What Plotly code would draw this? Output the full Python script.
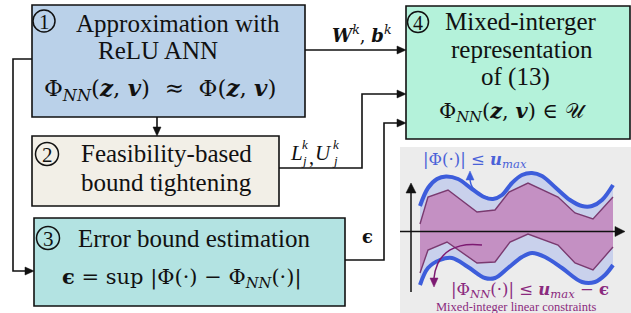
import plotly.graph_objects as go

# ---------------- data (inset sketch, abstract units: t along time axis, v signal value) -------------
upper_bound_t = [0.8, 1.6, 2.5, 3.4, 4.6, 6.0, 7.2, 8.1, 9.0, 10.0, 11.0, 12.0, 13.0, 14.4, 15.8, 17.0, 18.0, 19.0, 20.1]
upper_bound_v = [2.55, 4.35, 5.25, 5.5, 5.25, 4.25, 3.45, 3.25, 3.65, 4.85, 5.65, 5.85, 5.55, 4.35, 3.15, 2.55, 2.55, 3.15, 4.65]
lower_bound_t = [0.8, 1.6, 2.8, 4.0, 5.6, 7.3, 8.3, 9.6, 11.0, 12.0, 13.3, 15.0, 17.0, 18.3, 19.3, 20.1]
lower_bound_v = [-5.35, -3.65, -2.85, -2.65, -3.55, -4.65, -4.65, -3.65, -2.55, -2.15, -2.55, -3.65, -5.05, -5.05, -4.35, -3.35]
nn_t = [0.8, 1.6, 3.6, 6.5, 8.3, 9.7, 11.6, 14.6, 16.3, 18.1, 20.1]
nn_upper_v = [0.75, 3.45, 4.15, 1.95, 2.15, 3.95, 4.85, 3.45, 1.85, 1.25, 3.45]
nn_lower_t = [0.8, 1.6, 3.5, 6.5, 8.3, 9.8, 11.6, 14.6, 16.3, 18.1, 20.1]
nn_lower_v = [-4.15, -1.85, -1.05, -3.15, -3.05, -1.05, -0.25, -1.35, -3.15, -3.85, -1.55]

# ---------------- text ----------------
NB = "\u00a0"
ZV = "(<b><i>z</i></b>," + NB + "<b><i>v</i></b>)"
box1_lines = ["Approximation with", "ReLU ANN",
              "Φ<sub><i>NN</i></sub>" + ZV + NB + NB + "≈" + NB + NB + "Φ" + ZV]
box2_lines = ["Feasibility-based", "bound tightening"]
box3_lines = ["Error bound estimation",
              "<b>ϵ</b>" + NB + "=" + NB + "sup" + NB + "|Φ(·)" + NB + "−" + NB + "Φ<sub><i>NN</i></sub>(·)|"]
box4_lines = ["Mixed-interger", "representation", "of (13)",
              "Φ<sub><i>NN</i></sub>" + ZV + NB + "∈" + NB + "𝒰"]
step_numbers = ["1", "2", "3", "4"]

W, H = 631, 313
SERIF = "Liberation Serif, Times New Roman, serif"
MATH = "DejaVu Serif, serif"
BLUE = "#3d5ddb"
LBLUE = "#c9d1ec"
PURP_FILL = "#c490c3"
PURP_LINE = "#7a3a70"
PURP_TXT = "#8a2a7e"

fig = go.Figure()

# inset traces on overlay axes (x2/y2)
fig.add_trace(go.Scatter(x=lower_bound_t, y=lower_bound_v, mode="lines", line=dict(width=0, shape="spline", color=LBLUE),
                         xaxis="x2", yaxis="y2", hoverinfo="skip"))
fig.add_trace(go.Scatter(x=upper_bound_t, y=upper_bound_v, mode="lines", line=dict(width=0, shape="spline", color=LBLUE),
                         fill="tonexty", fillcolor=LBLUE, xaxis="x2", yaxis="y2", hoverinfo="skip"))
fig.add_trace(go.Scatter(x=nn_lower_t, y=nn_lower_v, mode="lines", line=dict(width=0, color=PURP_FILL),
                         xaxis="x2", yaxis="y2", hoverinfo="skip"))
fig.add_trace(go.Scatter(x=nn_t, y=nn_upper_v, mode="lines", line=dict(width=0, color=PURP_FILL),
                         fill="tonexty", fillcolor=PURP_FILL, xaxis="x2", yaxis="y2", hoverinfo="skip"))
fig.add_trace(go.Scatter(x=nn_t, y=nn_upper_v, mode="lines", line=dict(width=1.4, color=PURP_LINE),
                         xaxis="x2", yaxis="y2", hoverinfo="skip"))
fig.add_trace(go.Scatter(x=nn_lower_t, y=nn_lower_v, mode="lines", line=dict(width=1.4, color=PURP_LINE),
                         xaxis="x2", yaxis="y2", hoverinfo="skip"))
fig.add_trace(go.Scatter(x=upper_bound_t, y=upper_bound_v, mode="lines", line=dict(width=4, shape="spline", color=BLUE),
                         xaxis="x2", yaxis="y2", hoverinfo="skip"))
fig.add_trace(go.Scatter(x=lower_bound_t, y=lower_bound_v, mode="lines", line=dict(width=4, shape="spline", color=BLUE),
                         xaxis="x2", yaxis="y2", hoverinfo="skip"))

shapes = []


def rect(x0, y0, x1, y1, fill, lw=1.6, layer="below"):
    shapes.append(dict(type="rect", x0=x0, y0=y0, x1=x1, y1=y1, xref="x", yref="y",
                       fillcolor=fill, line=dict(color="#111111", width=lw), layer=layer))


def path(d, color="#111111", lw=1.6, fill=None):
    s = dict(type="path", path=d, xref="x", yref="y", line=dict(color=color, width=lw))
    if fill:
        s["fillcolor"] = fill
    shapes.append(s)


def head(x, y, direction, L=9, Wd=4, color="#111111"):
    if direction == "r":
        d = f"M {x} {y} L {x-L} {y-Wd} L {x-L} {y+Wd} Z"
    elif direction == "l":
        d = f"M {x} {y} L {x+L} {y-Wd} L {x+L} {y+Wd} Z"
    elif direction == "u":
        d = f"M {x} {y} L {x-Wd} {y+L} L {x+Wd} {y+L} Z"
    else:
        d = f"M {x} {y} L {x-Wd} {y-L} L {x+Wd} {y-L} Z"
    path(d, color=color, lw=0.5, fill=color)


def circle(cx, cy, r):
    shapes.append(dict(type="circle", x0=cx - r, x1=cx + r, y0=cy - r, y1=cy + r, xref="x", yref="y",
                       line=dict(color="#111111", width=1.5)))


# inset panel background
shapes.append(dict(type="rect", x0=400, y0=147, x1=631, y1=313, xref="x", yref="y",
                   fillcolor="#ececec", line=dict(width=0), layer="below"))

# boxes
rect(32, 5, 305, 117, "#bad1e9")
rect(32, 136, 279, 206, "#f2efe7")
rect(34, 218, 345, 306, "#b3e3e2")
rect(406, 6, 630, 139, "#b4f2da")

# connectors
path("M 305 50 L 398 50")
head(406, 50, "r")
path("M 157 117 L 157 128")
head(157, 136, "d")
path("M 279 168 L 362 168 L 362 94 L 398 94")
head(406, 94, "r")
path("M 345 260 L 384 260 L 384 123 L 398 123")
head(406, 123, "r")
path("M 32 59 L 13 59 L 13 271 L 26 271")
head(34, 271, "r")

# step circles
circle(44, 21, 11)
circle(47, 154, 11.5)
circle(48, 238, 11.5)
circle(418, 22, 10.5)

# inset axes
path("M 411 292 L 411 192", lw=1.5)
head(411, 183, "u", L=10, Wd=5)
path("M 400 231.5 L 616 231.5", lw=1.5)
head(625, 231.5, "r", L=10, Wd=5)

# inset callout arrows
path("M 496 199 Q 472 196 470 180", color=BLUE, lw=1.5)
head(470, 171, "u", L=9, Wd=4, color=BLUE)
path("M 482 245 C 458 242 437 250 434 278", color="#7d1a72", lw=1.5)
head(434, 287, "d", L=9, Wd=4, color="#7d1a72")

annotations = []


def ann(x, y, text, size, color="#111111", xanchor="center", family=SERIF):
    annotations.append(dict(x=x, y=y, xref="x", yref="y", text=text, showarrow=False,
                            xanchor=xanchor, yanchor="middle",
                            font=dict(family=family, size=size, color=color)))


TS = 25
# box 1
ann(178, 23, box1_lines[0], TS)
ann(158, 50, box1_lines[1], TS)
ann(160, 89, box1_lines[2], 23, family=MATH)
# box 2
ann(166, 153, box2_lines[0], TS)
ann(166, 182, box2_lines[1], TS)
# box 3
ann(194, 238, box3_lines[0], TS)
ann(182, 277, box3_lines[1], 21, family=MATH)
# box 4
ann(521, 21, box4_lines[0], TS)
ann(522, 49, box4_lines[1], TS)
ann(515, 77, box4_lines[2], TS)
ann(513, 111, box4_lines[3], 21, family=MATH)
# circled numbers
ann(44, 22, step_numbers[0], 21)
ann(47, 155, step_numbers[1], 21)
ann(48, 239, step_numbers[2], 21)
ann(418, 23, step_numbers[3], 20)

# connector labels
ann(362, 34, "<b><i>W</i></b><sup><i>k</i></sup>," + NB + "<b><i>b</i></b><sup><i>k</i></sup>", 18, family=MATH)
ann(296, 153, "<i>L</i>", 21)
ann(305, 144, "<i>k</i>", 13)
ann(304, 160, "<i>j</i>", 13)
ann(311, 157, ",", 20)
ann(323, 153, "<i>U</i>", 21)
ann(336, 144, "<i>k</i>", 13)
ann(335, 160, "<i>j</i>", 13)
ann(367, 236, "<b>ϵ</b>", 18, family=MATH)

# inset labels
ann(475, 160, "|Φ(·)|" + NB + "≤" + NB + "<b><i>u</i></b><sub><i>max</i></sub>", 16.5, color="#4a62d8", family=MATH)
ann(530, 290, "|Φ<sub><i>NN</i></sub>(·)|" + NB + "≤" + NB + "<b><i>u</i></b><sub><i>max</i></sub>" + NB + "−" + NB + "<b>ϵ</b>",
    16.5, color=PURP_TXT, family=MATH)
ann(516, 307, "Mixed-integer linear constraints", 12.5, color=PURP_TXT)

fig.update_layout(
    width=W, height=H, margin=dict(l=0, r=0, t=0, b=0),
    paper_bgcolor="white", plot_bgcolor="white", showlegend=False,
    xaxis=dict(range=[0, W], visible=False, fixedrange=True),
    yaxis=dict(range=[H, 0], visible=False, fixedrange=True),
    xaxis2=dict(range=[(0 - 412) / 10, (W - 412) / 10], overlaying="x", visible=False, fixedrange=True),
    yaxis2=dict(range=[(231.5 - H) / 10, 231.5 / 10], overlaying="y", visible=False, fixedrange=True),
    shapes=shapes, annotations=annotations,
)

fig.write_html("out.html", config={"displayModeBar": False},
               post_script="document.body.style.margin='0';document.body.style.overflow='hidden';")
